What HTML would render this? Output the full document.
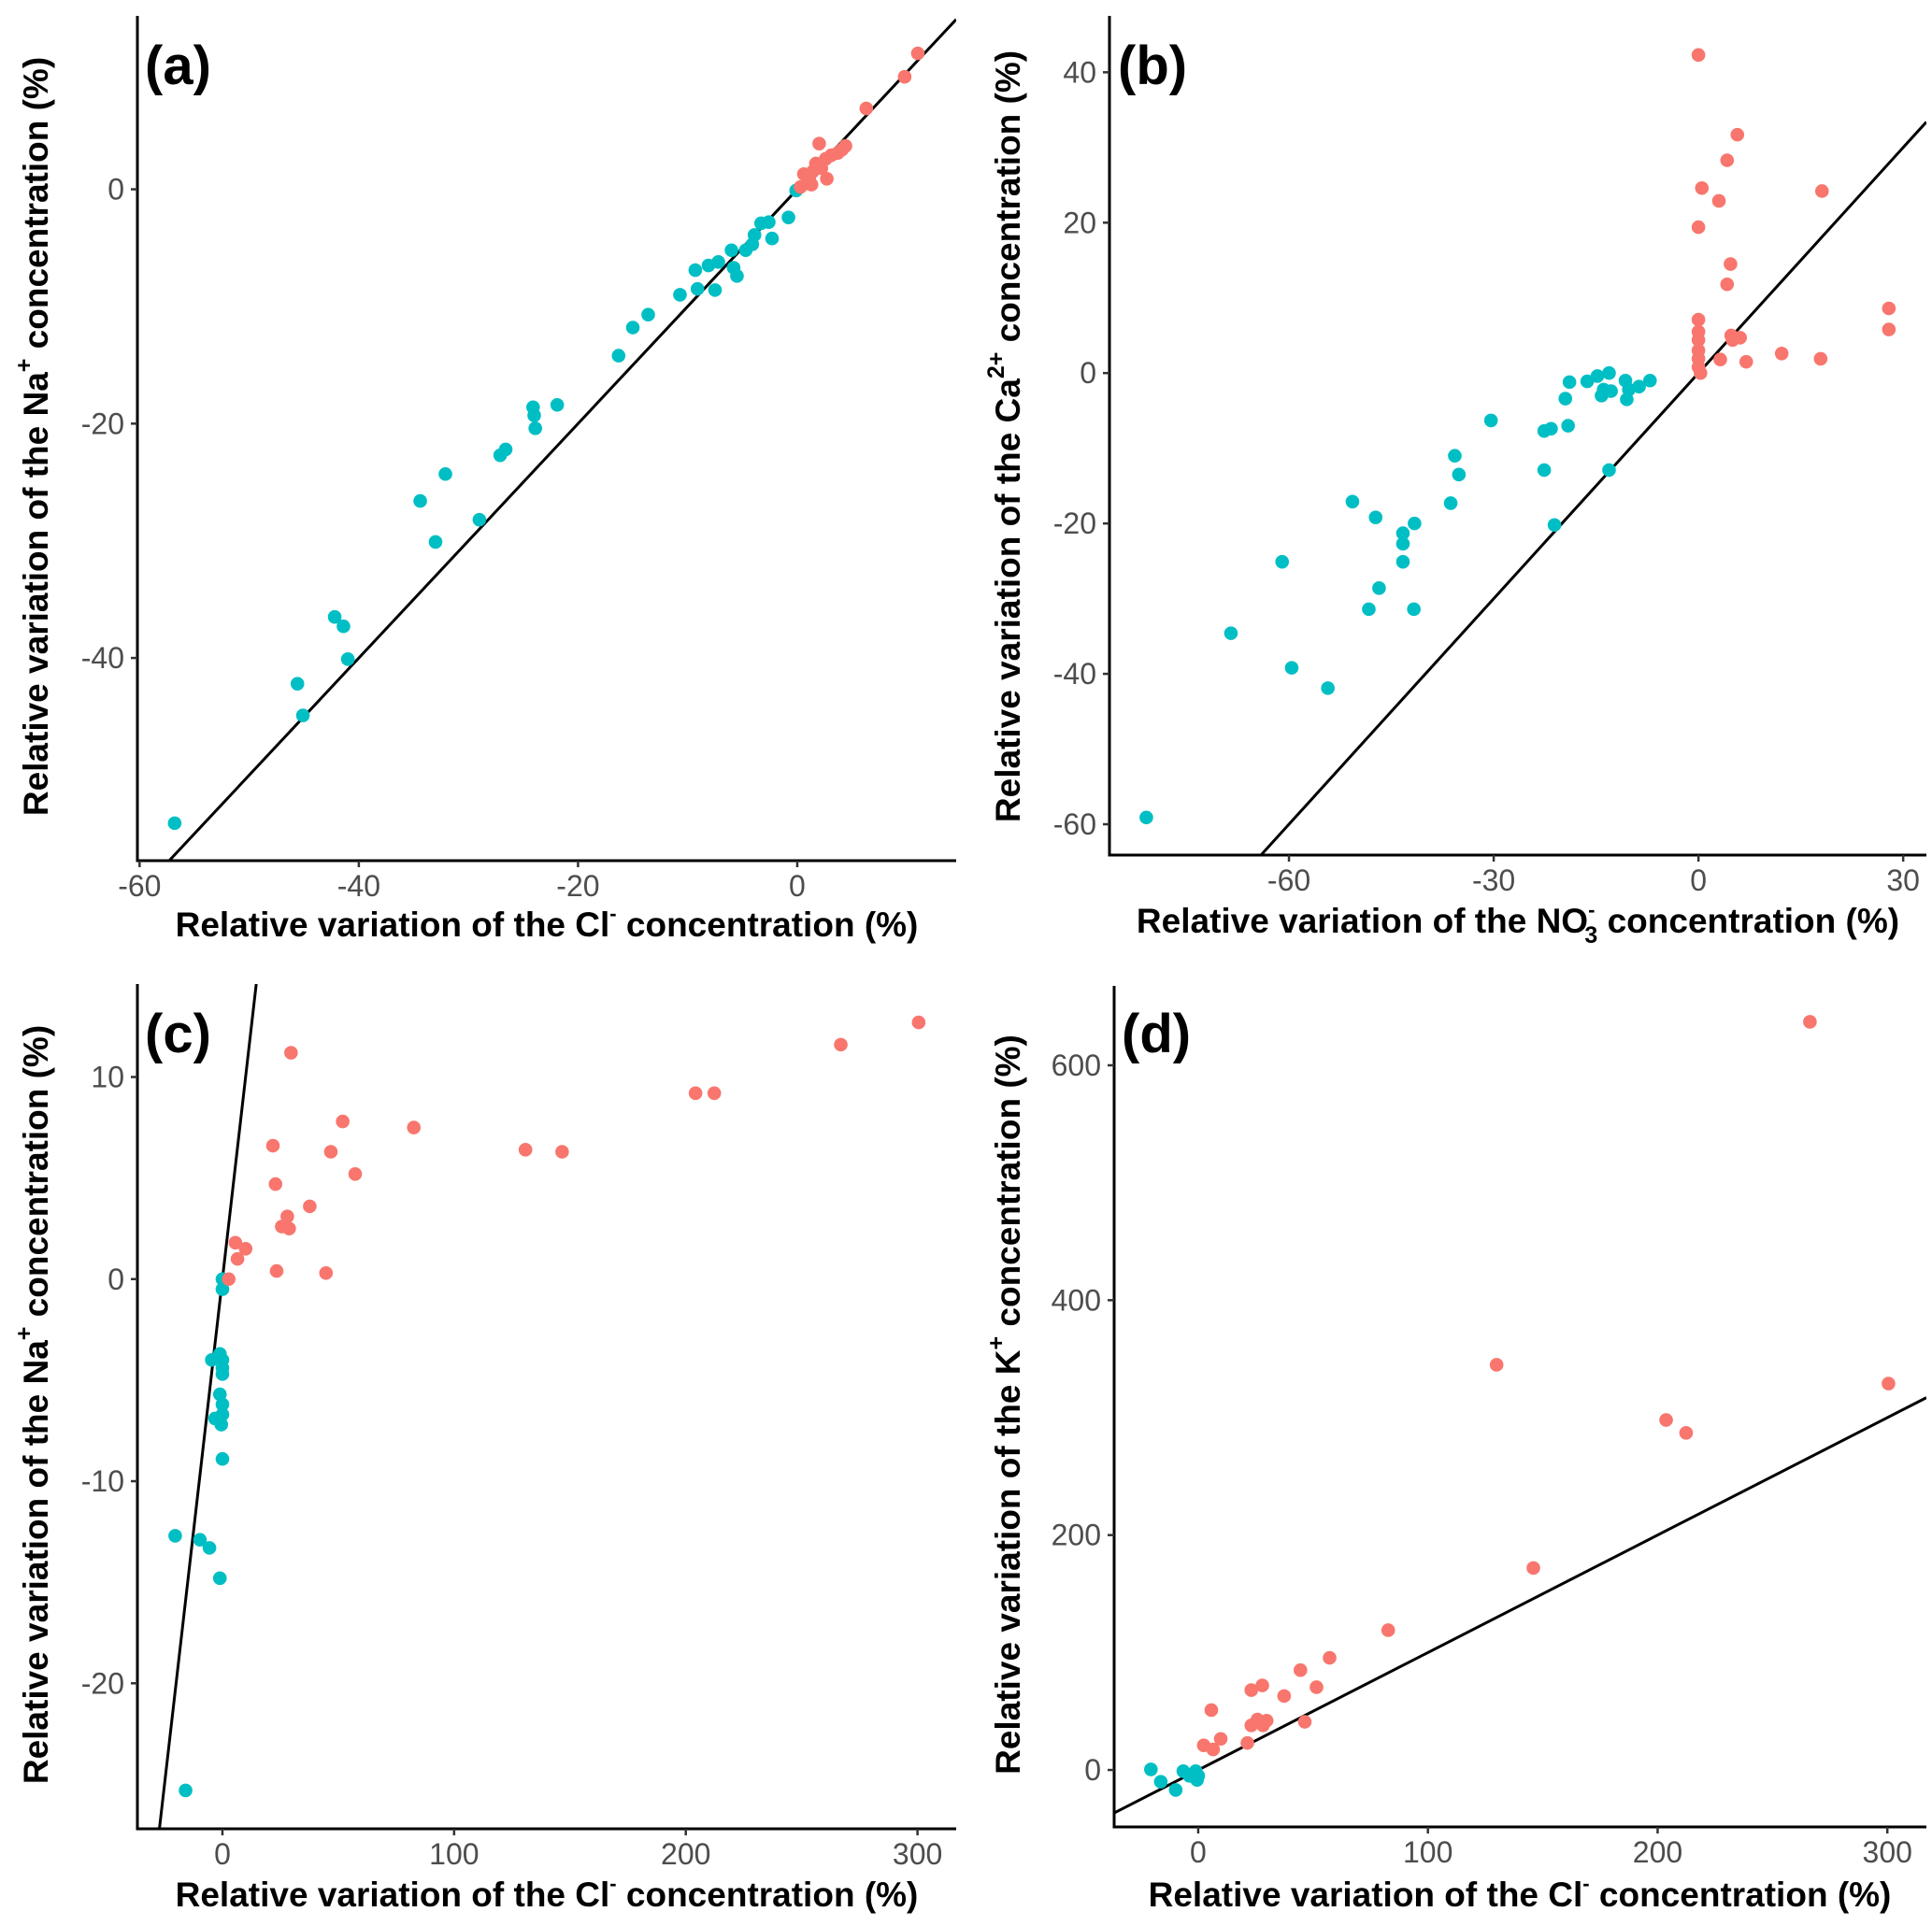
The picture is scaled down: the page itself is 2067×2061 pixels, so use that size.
<!DOCTYPE html>
<html><head><meta charset="utf-8">
<style>
html,body{margin:0;padding:0;background:#fff;}
svg{display:block;}
.tick{font-family:"Liberation Sans",sans-serif;font-size:32px;fill:#4d4d4d;}
.title{font-family:"Liberation Sans",sans-serif;font-size:37px;font-weight:bold;fill:#000;}
.plab{font-family:"Liberation Sans",sans-serif;font-size:58px;font-weight:bold;fill:#000;}
</style></head>
<body>
<svg id="chart" width="2067" height="2061" viewBox="0 0 2067 2061" xmlns="http://www.w3.org/2000/svg">
<text class="plab" x="155" y="90">(a)</text>
<text class="plab" x="1196" y="90">(b)</text>
<text class="plab" x="155" y="1126">(c)</text>
<text class="plab" x="1200" y="1126">(d)</text>

<text class="title" x="585" y="992" dominant-baseline="middle" text-anchor="middle">Relative variation of the Cl<tspan dy="-13" font-size="22">-</tspan><tspan dy="13"> concentration (%)</tspan></text>
<text class="title" transform="translate(41,467) rotate(-90)" dominant-baseline="middle" text-anchor="middle">Relative variation of the Na<tspan dy="-14" font-size="25">+</tspan><tspan dy="14"> concentration (%)</tspan></text>
<text class="title" x="1624" y="988" dominant-baseline="middle" text-anchor="middle">Relative variation of the NO<tspan dy="-13" font-size="22">-</tspan><tspan dx="-11" dy="27" font-size="25">3</tspan><tspan dy="-14"> concentration (%)</tspan></text>
<text class="title" transform="translate(1081,467) rotate(-90)" dominant-baseline="middle" text-anchor="middle">Relative variation of the Ca<tspan dy="-14" font-size="25">2+</tspan><tspan dy="14"> concentration (%)</tspan></text>
<text class="title" x="585" y="2030" dominant-baseline="middle" text-anchor="middle">Relative variation of the Cl<tspan dy="-13" font-size="22">-</tspan><tspan dy="13"> concentration (%)</tspan></text>
<text class="title" transform="translate(41,1503) rotate(-90)" dominant-baseline="middle" text-anchor="middle">Relative variation of the Na<tspan dy="-14" font-size="25">+</tspan><tspan dy="14"> concentration (%)</tspan></text>
<text class="title" x="1626" y="2030" dominant-baseline="middle" text-anchor="middle">Relative variation of the Cl<tspan dy="-13" font-size="22">-</tspan><tspan dy="13"> concentration (%)</tspan></text>
<text class="title" transform="translate(1081,1503) rotate(-90)" dominant-baseline="middle" text-anchor="middle">Relative variation of the K<tspan dy="-14" font-size="25">+</tspan><tspan dy="14"> concentration (%)</tspan></text>
</svg>
<script>
// Panel (a)
const aTealX=[-56.8,-45.6,-45.1,-42.2,-41.4,-41.0,-34.4,-33.0,-32.1,-29.0,-27.1,-26.6,-24.1,-24.0,-23.9,-21.9,-16.3,-15.0,-13.6,-10.7,-9.3,-9.1,-8.1,-7.5,-7.2,-6.0,-5.8,-5.5,-4.7,-4.1,-3.9,-3.3,-2.6,-2.3,-0.8,-0.1];
const aTealY=[-54.1,-42.2,-44.9,-36.5,-37.3,-40.1,-26.6,-30.1,-24.3,-28.2,-22.7,-22.2,-18.6,-19.3,-20.4,-18.4,-14.2,-11.8,-10.7,-9.0,-6.9,-8.5,-6.5,-8.6,-6.2,-5.2,-6.7,-7.4,-5.2,-4.7,-3.9,-2.9,-2.8,-4.2,-2.4,-0.1];
const aRedX=[0.3,0.6,0.9,1.1,1.4,1.3,1.7,2.0,2.2,2.6,2.7,3.1,3.7,4.1,4.4,6.3,9.8,11.0];
const aRedY=[0.2,1.3,0.5,1.0,1.5,0.4,2.2,3.9,1.8,2.6,0.9,2.9,3.1,3.4,3.7,6.9,9.6,11.6];
const aXTicks=[-60,-40,-20,0];
const aYTicks=[-40,-20,0];
// Panel (b)
const bTealX=[-80.9,-68.5,-61.0,-59.6,-54.3,-50.7,-48.3,-47.3,-46.8,-43.3,-43.3,-43.3,-41.7,-41.6,-36.3,-35.7,-35.1,-30.4,-22.6,-22.6,-21.6,-21.1,-19.5,-19.1,-18.9,-16.3,-14.8,-14.2,-13.9,-13.1,-13.1,-12.8,-10.7,-10.5,-10.2,-8.7,-7.1];
const bTealY=[-59.1,-34.6,-25.1,-39.2,-41.9,-17.1,-31.4,-19.2,-28.6,-21.3,-22.7,-25.1,-31.4,-20.0,-17.3,-11.0,-13.5,-6.3,-12.9,-7.7,-7.4,-20.2,-3.4,-7.0,-1.2,-1.1,-0.4,-3.0,-2.2,0,-12.9,-2.4,-1.0,-3.5,-2.2,-1.8,-1.0];
const bRedX=[0,0.5,0,0,0,0,0,0,0,0.3,3.0,4.2,5.7,4.2,4.7,4.8,5.0,6.1,3.2,7.0,12.2,17.9,18.1,27.9,27.9];
const bRedY=[42.3,24.6,19.4,7.1,5.5,4.4,3.0,1.9,0.8,0,22.9,28.3,31.7,11.8,14.5,5.0,4.4,4.7,1.8,1.5,2.6,1.9,24.2,8.6,5.8];
const bXTicks=[-60,-30,0,30];
const bYTicks=[-60,-40,-20,0,20,40];
// Panel (c)
const cTealX=[-20.4,-15.9,-9.7,-5.6,-1.1,0,-3.2,-0.5,0,0,-1.1,0,0,-4.6,0,-1.1,0,0];
const cTealY=[-12.7,-25.3,-12.9,-13.3,-14.8,-8.9,-6.9,-7.2,-6.7,-6.2,-5.7,-4.7,-4.4,-4.0,-4.0,-3.7,-0.5,0];
const cRedX=[2.7,6.5,5.6,10.0,21.8,22.9,23.4,25.6,28.0,28.8,29.6,37.7,44.7,46.8,51.9,57.3,82.6,130.8,146.6,204.2,212.3,266.9,300.5];
const cRedY=[0,1.0,1.8,1.5,6.6,4.7,0.4,2.6,3.1,2.5,11.2,3.6,0.3,6.3,7.8,5.2,7.5,6.4,6.3,9.2,9.2,11.6,12.7];
const cXTicks=[0,100,200,300];
const cYTicks=[-20,-10,0,10];
// Panel (d)
const dTealX=[-20.6,-16.3,-9.8,-6.5,-3.8,-1.1,-0.5,0];
const dTealY=[0.5,-10,-17,-1,-5,-1,-8.5,-5];
const dRedX=[2.4,6.5,5.7,9.8,21.4,23.1,23.1,25.8,28.2,27.9,29.8,37.4,44.5,46.4,51.5,57.2,82.7,129.9,145.9,203.7,212.4,266.3,300.5];
const dRedY=[21,17.5,51,26.5,23,38,68,43,38,72,42,63,85,41,70.5,95.5,119,345,172,298,287,637,329];
const dXTicks=[0,100,200,300];
const dYTicks=[0,200,400,600];

const NS="http://www.w3.org/2000/svg";
const svg=document.getElementById('chart');
function mk(tag,attrs,parent){const e=document.createElementNS(NS,tag);for(const k in attrs)e.setAttribute(k,attrs[k]);(parent||svg).appendChild(e);return e;}

function panel(id,box,dom,xt,yt,tx,ty,rx,ry){
  const [L,T,R,B]=box;const [x0,x1,y0,y1]=dom;
  const sx=v=>L+(v-x0)/(x1-x0)*(R-L);
  const sy=v=>B-(v-y0)/(y1-y0)*(B-T);
  const g=mk('g',{});
  
  
  const clip=mk('clipPath',{id:'clip'+id},g);mk('rect',{x:L,y:T,width:R-L,height:B-T},clip);
  const lo=Math.max(x0,y0),hi=Math.min(x1,y1);
  const ln=mk('line',{x1:sx(lo),y1:sy(lo),x2:sx(hi),y2:sy(hi),stroke:'#000','stroke-width':3,'clip-path':'url(#clip'+id+')'},g);
  
  
  const pts=(xs,ys,col,name)=>{for(let i=0;i<xs.length;i++){const c=mk('circle',{cx:sx(xs[i]),cy:sy(ys[i]),r:7.3,fill:col},g);
    
    }};
  pts(tx,ty,'#00BFC4','point-decrease-'+id);
  pts(rx,ry,'#F8766D','point-increase-'+id);
  const ax=mk('path',{d:`M${L},${T} V${B} H${R}`,fill:'none',stroke:'#000','stroke-width':3},g);
  
  
  xt.forEach(v=>{const x=sx(v);mk('line',{x1:x,y1:B,x2:x,y2:B+7,stroke:'#333','stroke-width':2.5},g);
    const t=mk('text',{x:x,y:B+38,'text-anchor':'middle',class:'tick'},g);t.textContent=v;
    
    });
  yt.forEach(v=>{const y=sy(v);mk('line',{x1:L-7,y1:y,x2:L,y2:y,stroke:'#333','stroke-width':2.5},g);
    const t=mk('text',{x:L-14,y:y+11,'text-anchor':'end',class:'tick'},g);t.textContent=v;
    
    });
}
panel('a',[147,17,1023,921],[-60.2,14.5,-57.3,14.8],aXTicks,aYTicks,aTealX,aTealY,aRedX,aRedY);
panel('b',[1187,17,2061,915],[-86.3,33.4,-64.1,47.5],bXTicks,bYTicks,bTealX,bTealY,bRedX,bRedY);
panel('c',[147,1053,1023,1957],[-36.7,316.7,-27.2,14.6],cXTicks,cYTicks,cTealX,cTealY,cRedX,cRedY);
panel('d',[1192,1055,2061,1955],[-36.6,317,-48.5,667.6],dXTicks,dYTicks,dTealX,dTealY,dRedX,dRedY);
</script>
</body></html>
